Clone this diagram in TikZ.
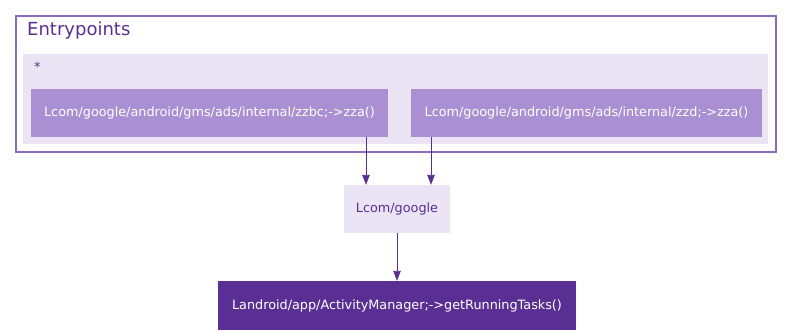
\documentclass[tikz,border=0pt]{standalone}
\usepackage{fontspec}
\setmainfont{DejaVu Sans}
\usetikzlibrary{positioning,arrows.meta}
\definecolor{callpurple}{HTML}{5A2F93}
\definecolor{entrypurple}{HTML}{AA90D2}
\definecolor{lightpurple}{HTML}{EBE4F5}
\definecolor{clusterline}{HTML}{8C6CBC}

\begin{document}
\begin{tikzpicture}[x=1pt, y=1pt,
    cluster/.style={rectangle, draw=clusterline, line width=1.1pt, fill=white, inner sep=0pt},
    group/.style={rectangle, fill=lightpurple, inner sep=0pt},
    entry/.style={rectangle, fill=entrypurple, text=white, inner sep=0pt,
        minimum height=48pt, font=\fontsize{12.8}{15}\selectfont},
    pkg/.style={rectangle, fill=lightpurple, text=callpurple, inner sep=0pt,
        minimum height=48pt, font=\fontsize{12.8}{15}\selectfont},
    api/.style={rectangle, fill=callpurple, text=white, inner sep=0pt,
        minimum height=49pt, font=\fontsize{12.8}{15}\selectfont},
    call/.style={draw=callpurple, line width=0.9pt,
        -{Triangle[length=10pt, width=7.5pt]}}
]
\useasboundingbox (0,0) rectangle (792,-335);

% entry point cluster
\node (entrypoints) [cluster, minimum width=760, minimum height=136] at (396,-84) {};
\node (title) [anchor=west, text=callpurple, inner sep=0pt,
    font=\fontsize{18}{21}\selectfont] at (27,-30.5) {Entrypoints};
\node (star) [group, minimum width=745, minimum height=90] at (395.5,-99) {};
\node (starlabel) [anchor=west, text=callpurple, inner sep=0pt,
    font=\fontsize{12.8}{15}\selectfont] at (34,-67) {*};

\node (zzbc) [entry, minimum width=357] at (209.5,-113)
    {Lcom/google/android/gms/ads/internal/zzbc;->zza()};
\node (zzd) [entry, minimum width=351] at (586.5,-113)
    {Lcom/google/android/gms/ads/internal/zzd;->zza()};

% package and target call
\node (google) [pkg, minimum width=106] at (397,-209) {Lcom/google};
\node (tasks) [api, minimum width=358] at (397,-305.5)
    {Landroid/app/ActivityManager;->getRunningTasks()};

\draw [call] ([xshift=156.5]zzbc.south) -- ([xshift=-31]google.north);
\draw [call] ([xshift=-155.5]zzd.south) -- ([xshift=34]google.north);
\draw [call] (google) -- (tasks);

\end{tikzpicture}
\end{document}
